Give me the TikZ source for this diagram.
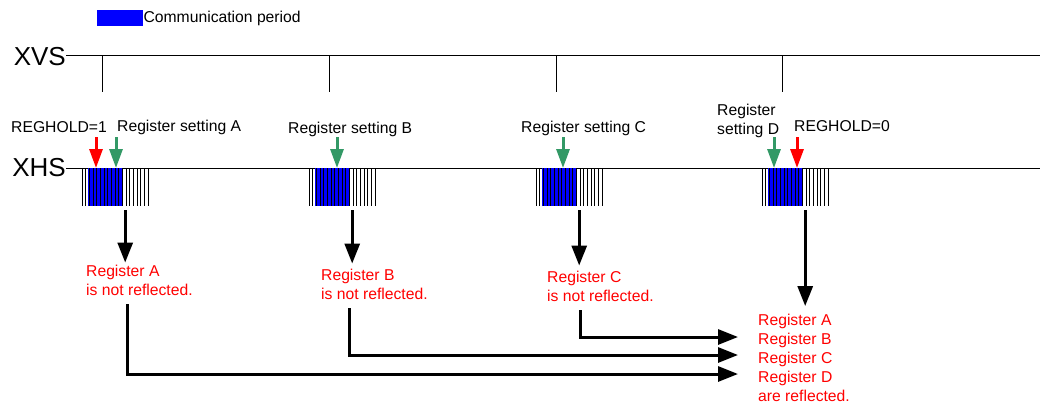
\documentclass[tikz,border=0pt]{standalone}
\usepackage{fontspec}
\setmainfont{Liberation Sans}
\usetikzlibrary{positioning, arrows.meta}
\definecolor{commblue}{RGB}{0,0,255}
\definecolor{setgreen}{RGB}{51,153,102}
\definecolor{holdred}{RGB}{255,0,0}

\begin{document}
\begin{tikzpicture}[x=1pt, y=-1pt,
    every node/.style={font=\fontsize{15.7}{19}\selectfont, inner sep=0pt},
    lbl/.style={anchor=west, align=left},
    note/.style={anchor=west, align=left, text=holdred},
    sig/.style={font=\fontsize{26}{30}\selectfont, anchor=east},
    wave/.style={line width=0.9pt},
    stripe/.style={line width=0.9pt},
    setarrow/.style={-{Triangle[length=19pt,width=13pt]}, line width=3pt, setgreen},
    holdarrow/.style={-{Triangle[length=19pt,width=13pt]}, line width=3pt, holdred},
    flow/.style={-{Triangle[length=20pt,width=15pt]}, line width=3pt, black},
    commblock/.style={minimum width=66pt, minimum height=38pt, anchor=north west}
]
    \useasboundingbox (0,0) rectangle (1040,407);

    % Legend
    \node[fill=commblue, minimum width=46pt, minimum height=16pt, anchor=west] (legbox) at (97,18) {};
    \node[lbl] (legtext) at (legbox.east) {Communication period};

    % Signals
    \node[sig] (xvs) at (66,57) {XVS};
    \node[sig] (xhs) at (66,168) {XHS};
    \draw[wave] (xvs.east |- 0,55) -- (1040,55);
    \draw[wave] (xhs.east) -- (1040,168);

    % Communication blocks
    \foreach \n/\x in {A/82, B/309, C/536, D/762} {
        \node[commblock] (blk\n) at (\x,168) {};
        \fill[commblue] (\x+6,168) rectangle (\x+41,206);
        \foreach \k in {0,...,18}
            \draw[stripe] (\x+\k*3.67,168) -- (\x+\k*3.67,206);
        \draw[wave] (\x+20,55) -- (\x+20,92);
    }

    % Labels
    \node[lbl] (hold1) at (11,127) {REGHOLD=1};
    \node[lbl] (setA) at (117,127) {Register setting A};
    \node[lbl] (setB) at (288,129) {Register setting B};
    \node[lbl] (setC) at (521,128) {Register setting C};
    \node[lbl] (setD) at (717,121) {Register\\setting D};
    \node[lbl] (hold0) at (794,126) {REGHOLD=0};

    \node[note] (notA) at (86,280) {Register A\\is not reflected.};
    \node[note] (notB) at (321,284) {Register B\\is not reflected.};
    \node[note] (notC) at (547,286) {Register C\\is not reflected.};
    \node[note] (result) at (758,358) {Register A\\Register B\\Register C\\Register D\\are reflected.};

    % Setting points
    \coordinate (hA) at (96,168);
    \coordinate (sA) at (116,168);
    \coordinate (sB) at (337,168);
    \coordinate (sC) at (563,168);
    \coordinate (sD) at (774,168);
    \coordinate (hD) at (797,168);
    \draw[holdarrow] ([yshift=31pt]hA) -- (hA);
    \draw[setarrow] ([yshift=31pt]sA) -- (sA);
    \draw[setarrow] ([yshift=31pt]sB) -- (sB);
    \draw[setarrow] ([yshift=31pt]sC) -- (sC);
    \draw[setarrow] ([yshift=31pt]sD) -- (sD);
    \draw[holdarrow] ([yshift=31pt]hD) -- (hD);

    % Connections
    \draw[flow] ([xshift=10pt,yshift=-4pt]blkA.south) -- ([xshift=10pt,yshift=2pt]blkA.south |- notA.north);
    \draw[flow] ([xshift=10pt,yshift=-4pt]blkB.south) -- ([xshift=10pt,yshift=5pt]blkB.south |- notB.north);
    \draw[flow] ([xshift=10pt,yshift=-4pt]blkC.south) -- ([xshift=10pt,yshift=5pt]blkC.south |- notC.north);
    \draw[flow] ([xshift=10pt,yshift=-4pt]blkD.south) -- ([xshift=10pt,yshift=8pt]blkD.south |- result.north);

    \draw[flow] ([xshift=41pt,yshift=-9pt]notA.south west) |- ([xshift=-20pt,yshift=-16pt]result.west);
    \draw[flow] ([xshift=28pt,yshift=-9pt]notB.south west) |- ([xshift=-20pt,yshift=3pt]result.west);
    \draw[flow] ([xshift=33pt,yshift=-9pt]notC.south west) |- ([xshift=-20pt,yshift=21pt]result.west);
\end{tikzpicture}
\end{document}
